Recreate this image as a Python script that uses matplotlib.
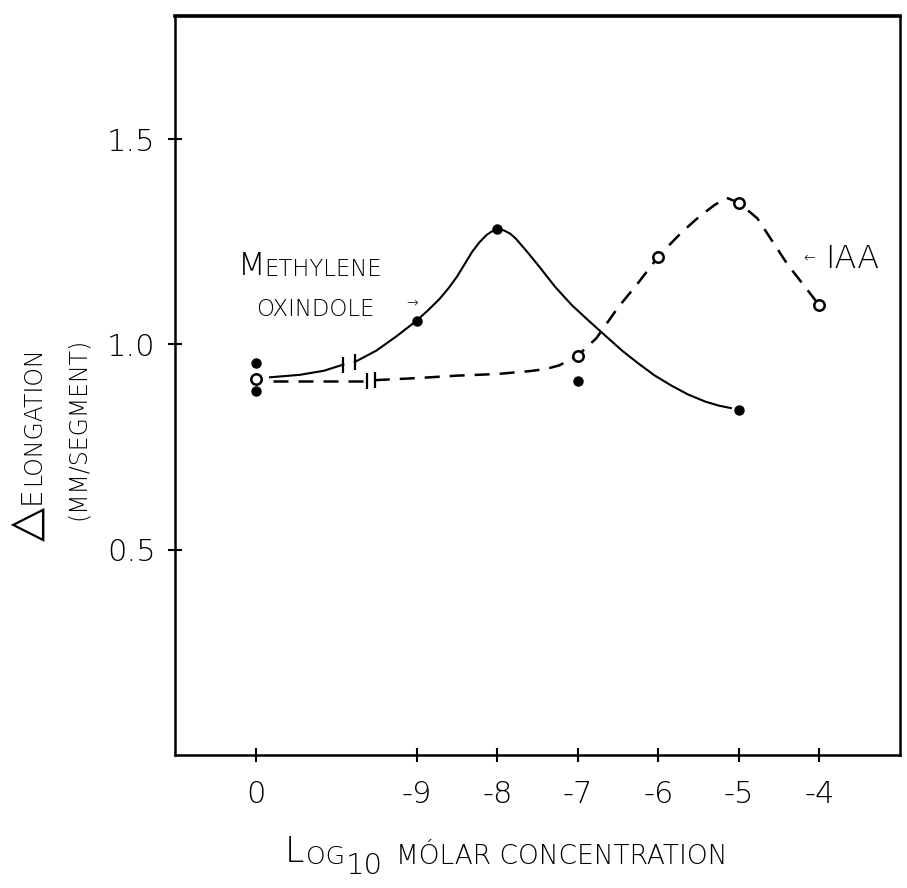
import matplotlib.pyplot as plt

W, H = 907, 888

# axis: 0 is the control, one empty unit, then log10 concentrations -9 ... -4
tick_pos = [0, 2, 3, 4, 5, 6, 7]
tick_labels = ['0', '-9', '-8', '-7', '-6', '-5', '-4']
ytick_vals = [0.5, 1.0, 1.5]
ytick_labels = ['0.5', '1.0', '1.5']

# filled dots (methylene oxindole, incl. controls)
mo_x = [0, 0, 2, 3, 4, 6]
mo_y = [0.954, 0.886, 1.058, 1.280, 0.910, 0.840]

# open circles (IAA, incl. control)
iaa_x = [0, 4, 5, 6, 7]
iaa_y = [0.917, 0.973, 1.214, 1.345, 1.095]

# hand drawn curves
mo_c1_x = [0.18, 0.55, 0.85, 1.09]
mo_c1_y = [0.920, 0.926, 0.936, 0.951]
mo_c2_x = [1.23, 1.5, 1.75, 2.0, 2.14, 2.28, 2.4, 2.5, 2.6, 2.69, 2.78, 2.87, 2.94, 3.0,
           3.08, 3.16, 3.23, 3.37, 3.52, 3.72, 3.93, 4.14, 4.35, 4.55, 4.75, 4.95, 5.16,
           5.37, 5.58, 5.75, 5.9]
mo_c2_y = [0.957, 0.985, 1.02, 1.058, 1.083, 1.11, 1.138, 1.165, 1.197, 1.226, 1.249, 1.267, 1.276, 1.28,
           1.278, 1.27, 1.258, 1.226, 1.19, 1.14, 1.095, 1.057, 1.02, 0.985, 0.954, 0.925, 0.90,
           0.878, 0.861, 0.851, 0.845]

iaa_c1_x = [0.22, 1.38]
iaa_c1_y = [0.912, 0.912]
iaa_c2_x = [1.48, 2.0, 2.5, 3.0, 3.4, 3.6, 3.77, 4.0, 4.23, 4.5, 4.75, 5.0, 5.15, 5.3,
            5.5, 5.7, 5.85, 6.0, 6.23, 6.6, 7.0]
iaa_c2_y = [0.913, 0.918, 0.924, 0.928, 0.935, 0.94, 0.949, 0.973, 1.015, 1.09, 1.15, 1.214, 1.245, 1.275,
            1.31, 1.34, 1.357, 1.345, 1.307, 1.196, 1.095]

# axis break marks on both curves
brk_solid_x = [1.09, 1.23]
brk_solid_y = [0.951, 0.957]
brk_dash_x = [1.38, 1.48]
brk_dash_y = [0.912, 0.913]


def fx(px):
    return px / W


def fy(py):
    return 1 - py / H


plt.rcParams['font.weight'] = 'light'

fig = plt.figure(figsize=(W / 100, H / 100), dpi=100)
ax = fig.add_axes([fx(175), fy(755), (900 - 175) / W, (755 - 16) / H])

ax.plot(mo_c1_x, mo_c1_y, '-', color='k', lw=1.5)
ax.plot(mo_c2_x, mo_c2_y, '-', color='k', lw=1.5)
ax.plot(iaa_c1_x, iaa_c1_y, '--', color='k', lw=1.8, dashes=(6, 4))
ax.plot(iaa_c2_x, iaa_c2_y, '--', color='k', lw=1.8, dashes=(6, 4))

ax.plot(brk_solid_x, brk_solid_y, '|', color='k', ms=12, mew=1.6)
ax.plot(brk_dash_x, brk_dash_y, '|', color='k', ms=12, mew=1.6)

ax.plot(mo_x, mo_y, 'o', color='k', ms=6.5, zorder=5)
ax.plot(iaa_x, iaa_y, 'o', mfc='white', mec='k', ms=7.5, mew=1.8, zorder=5)

ax.set_xlim(-1, 8)
ax.set_ylim(0, 1.8)
ax.set_xticks(tick_pos)
ax.set_xticklabels(tick_labels)
ax.set_yticks(ytick_vals)
ax.set_yticklabels(ytick_labels)
ax.tick_params(axis='x', direction='inout', length=10, width=1.5, labelsize=22, pad=13)
ax.tick_params(axis='y', direction='inout', length=10, width=1.5, labelsize=22, pad=9)
for s in ax.spines.values():
    s.set_linewidth(1.8)
ax.spines['top'].set_linewidth(2.6)

# curve labels
t = fig.text(fx(238), fy(275), 'M', fontsize=23, va='baseline')
ax.annotate('ETHYLENE', xy=(1, 0), xycoords=t, xytext=(-1, 0), textcoords='offset points',
            fontsize=16.5, va='bottom')
fig.text(fx(256), fy(316), 'OXINDOLE', fontsize=16.5, va='baseline')
fig.text(fx(406), fy(307), '→', fontsize=10, va='baseline')
fig.text(fx(803), fy(262), '←', fontsize=10, va='baseline')
fig.text(fx(825), fy(268), 'IAA', fontsize=23, va='baseline')

# y label, rotated small caps
t = fig.text(fx(48), fy(541), '△', rotation=90, ha='right', va='bottom', fontsize=32,
             family=['DejaVu Sans'], fontweight='normal')
t = ax.annotate('E', xy=(1, 1), xycoords=t, xytext=(-2, 2), textcoords='offset points',
                rotation=90, ha='right', va='bottom', fontsize=20)
ax.annotate('LONGATION', xy=(1, 1), xycoords=t, xytext=(0, 1), textcoords='offset points',
            rotation=90, ha='right', va='bottom', fontsize=17)
fig.text(fx(90), fy(520), '(MM/SEGMENT)', rotation=90, ha='right', va='bottom', fontsize=17)

# x label, small caps with subscript
t = fig.text(fx(285), fy(862), 'L', fontsize=25, va='baseline')
t = ax.annotate('OG', xy=(1, 0), xycoords=t, xytext=(1, 0), textcoords='offset points',
                fontsize=18, va='bottom')
t = ax.annotate('10', xy=(1, 0), xycoords=t, xytext=(1, -8), textcoords='offset points',
                fontsize=21, va='bottom')
ax.annotate('MÓLAR CONCENTRATION', xy=(1, 0), xycoords=t, xytext=(9, 8), textcoords='offset points',
            fontsize=19, va='bottom')

fig.savefig('out.png', dpi=100)
